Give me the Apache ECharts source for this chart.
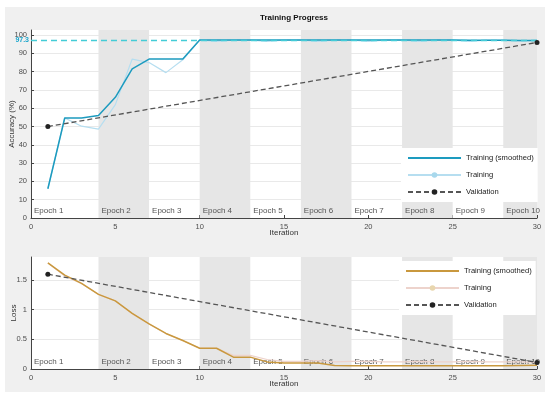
<!DOCTYPE html>
<html>
<head>
<meta charset="utf-8">
<script src="https://cdn.jsdelivr.net/npm/echarts@6/dist/echarts.min.js"></script>
<style>
html,body{margin:0;padding:0;background:#fff;}
#c{position:absolute;left:5px;top:7px;width:540px;height:385px;}
</style>
</head>
<body>
<div id="c"></div>
<script>
const iterations = [1,2,3,4,5,6,7,8,9,10,11,12,13,14,15,16,17,18,19,20,21,22,23,24,25,26,27,28,29,30];
const accSmoothed = [16,54.7,54.7,56,66,81.5,86.9,86.9,86.9,97.3,97.3,97.3,97.3,97.3,97.3,97.3,97.3,97.3,97.3,97.3,97.3,97.3,97.3,97.3,97.3,97.2,97.2,97.2,97.1,97.1];
const accTraining = [16,54.7,50.2,48.6,62,86.9,85,79.5,86.5,97.3,96.5,97.3,97.3,96.6,97.3,97.3,96.5,97.3,97.3,96.6,97.3,97.3,96.5,97.3,97.3,96.6,97.3,97.3,96.8,97.1];
const accValIter = [1,30];
const accValidation = [50,96];
const lossSmoothed = [1.79,1.585,1.445,1.26,1.15,0.94,0.76,0.60,0.48,0.35,0.35,0.20,0.20,0.12,0.10,0.10,0.10,0.06,0.055,0.055,0.055,0.055,0.055,0.055,0.055,0.055,0.055,0.055,0.06,0.065];
const lossTraining = [1.79,1.57,1.44,1.26,1.15,0.93,0.76,0.60,0.48,0.35,0.35,0.23,0.23,0.16,0.13,0.13,0.14,0.12,0.13,0.13,0.12,0.12,0.13,0.12,0.12,0.13,0.12,0.12,0.12,0.11];
const lossValIter = [1,30];
const lossValidation = [1.6,0.11];
const finalAcc = 97.3;
const epochNames = ['Epoch 1','Epoch 2','Epoch 3','Epoch 4','Epoch 5','Epoch 6','Epoch 7','Epoch 8','Epoch 9','Epoch 10'];
const epochStarts = [0,4,7,10,13,16,19,22,25,28];
const epochEnds = [4,7,10,13,16,19,22,25,28,30];

const zip = (xs, ys) => xs.map((x,i)=>[x, ys[i]]);
const epochAreas = epochNames.map((n,i)=>[
  {name:n, xAxis:epochStarts[i], itemStyle:{color: i%2===1 ? '#e6e6e6' : 'rgba(255,255,255,0)'}},
  {xAxis:epochEnds[i]}
]);

const chart = echarts.init(document.getElementById('c'));
const tickFont = {fontSize:7.5, color:'#4d4d4d', fontFamily:'Liberation Sans'};
function xAxis(gi){
  return {gridIndex:gi, type:'value', min:0, max:30, interval:5,
    name:'Iteration', nameLocation:'middle', nameGap:11, nameMoveOverlap:false,
    nameTextStyle:{fontSize:8, color:'#333', fontFamily:'Liberation Sans'},
    axisLine:{lineStyle:{color:'#444'}}, axisTick:{inside:true, length:3, lineStyle:{color:'#444'}},
    axisLabel:Object.assign({margin:5}, tickFont), splitLine:{show:false}};
}
function markSeries(gi){
  return {type:'line', xAxisIndex:gi, yAxisIndex:gi, data:[[0,0]], symbol:'none', z:1,
    lineStyle:{opacity:0}, silent:true,
    markArea:{silent:true, data:epochAreas,
      label:{show:true, position:'insideBottomLeft', distance:3, formatter:p=>p.name,
        fontSize:8, color:'#555', fontFamily:'Liberation Sans'}}};
}
const legendBase = {orient:'vertical', itemWidth:53, itemHeight:7, itemGap:9, backgroundColor:'#fff',
  padding:[6,4,6,6], textStyle:{fontSize:7.6, color:'#222', fontFamily:'Liberation Sans'},
  formatter: n => n.replace('L:','')};

chart.setOption({
  backgroundColor:'#f0f0f0',
  animation:false,
  title:{text:'Training Progress', left:250, top:2,
    textStyle:{fontSize:8, fontWeight:'bold', color:'#111', fontFamily:'Liberation Sans'}},
  grid:[
    {left:26, top:23, width:506, height:188, show:true, backgroundColor:'#fff', borderWidth:0, containLabel:false, outerBoundsMode:'none'},
    {left:26, top:250, width:506, height:112, show:true, backgroundColor:'#fff', borderWidth:0, containLabel:false, outerBoundsMode:'none'}
  ],
  xAxis:[xAxis(0), xAxis(1)],
  yAxis:[
    {gridIndex:0, type:'value', min:0, max:102.8, interval:10,
     name:'Accuracy (%)', nameLocation:'middle', nameGap:15, nameMoveOverlap:false,
     nameTextStyle:{fontSize:8, color:'#333', fontFamily:'Liberation Sans'},
     axisLine:{show:true, lineStyle:{color:'#444'}}, axisTick:{show:true, inside:true, length:3, lineStyle:{color:'#444'}},
     axisLabel:Object.assign({margin:4, showMaxLabel:false}, tickFont),
     splitLine:{show:true, showMaxLine:false, lineStyle:{color:'#e9e9e9'}}},
    {gridIndex:1, type:'value', min:0, max:1.89, interval:0.5,
     name:'Loss', nameLocation:'middle', nameGap:13, nameMoveOverlap:false,
     nameTextStyle:{fontSize:8, color:'#333', fontFamily:'Liberation Sans'},
     axisLine:{show:true, lineStyle:{color:'#444'}}, axisTick:{show:true, inside:true, length:3, lineStyle:{color:'#444'}},
     axisLabel:Object.assign({margin:4, showMaxLabel:false}, tickFont),
     splitLine:{show:true, showMaxLine:false, lineStyle:{color:'#e9e9e9'}}}
  ],
  legend:[
    Object.assign({left:396, top:141, data:[{name:'Training (smoothed)', itemStyle:{opacity:0}},'Training','Validation']}, legendBase),
    Object.assign({left:394, top:254, data:[{name:'L:Training (smoothed)', itemStyle:{opacity:0}},'L:Training','L:Validation']}, legendBase)
  ],
  series:[
    markSeries(0),
    markSeries(1),
    {name:'Training', type:'line', xAxisIndex:0, yAxisIndex:0, data:zip(iterations, accTraining), z:3,
     symbol:'circle', symbolSize:6, showSymbol:false, itemStyle:{color:'#a8d8ec'}, lineStyle:{color:'#b6def0', width:1.2}},
    {name:'Training (smoothed)', type:'line', xAxisIndex:0, yAxisIndex:0, data:zip(iterations, accSmoothed), z:4,
     symbol:'none', itemStyle:{color:'#1d9bbf'}, lineStyle:{color:'#1d9bbf', width:1.5},
     markLine:{silent:true, symbol:'none', data:[{yAxis:finalAcc}],
       lineStyle:{color:'#44ccd6', type:[6,4], width:1.3},
       label:{show:true, position:'start', formatter:String(finalAcc), distance:2, fontSize:7, fontWeight:'bold', color:'#1aa6cc', fontFamily:'Liberation Sans'}}},
    {name:'Validation', type:'line', xAxisIndex:0, yAxisIndex:0, data:zip(accValIter, accValidation), z:5,
     symbol:'circle', symbolSize:5, itemStyle:{color:'#222'}, lineStyle:{color:'#555', width:1.3, type:[5,3]}},
    {name:'L:Training', type:'line', xAxisIndex:1, yAxisIndex:1, data:zip(iterations, lossTraining), z:3,
     symbol:'circle', symbolSize:6, showSymbol:false, itemStyle:{color:'#e8d6ae'}, lineStyle:{color:'#edd3cc', width:1.2}},
    {name:'L:Training (smoothed)', type:'line', xAxisIndex:1, yAxisIndex:1, data:zip(iterations, lossSmoothed), z:4,
     symbol:'none', itemStyle:{color:'#c9983e'}, lineStyle:{color:'#c9983e', width:1.5}},
    {name:'L:Validation', type:'line', xAxisIndex:1, yAxisIndex:1, data:zip(lossValIter, lossValidation), z:5,
     symbol:'circle', symbolSize:5, itemStyle:{color:'#222'}, lineStyle:{color:'#555', width:1.3, type:[5,3]}}
  ]
});
</script>
</body>
</html>
